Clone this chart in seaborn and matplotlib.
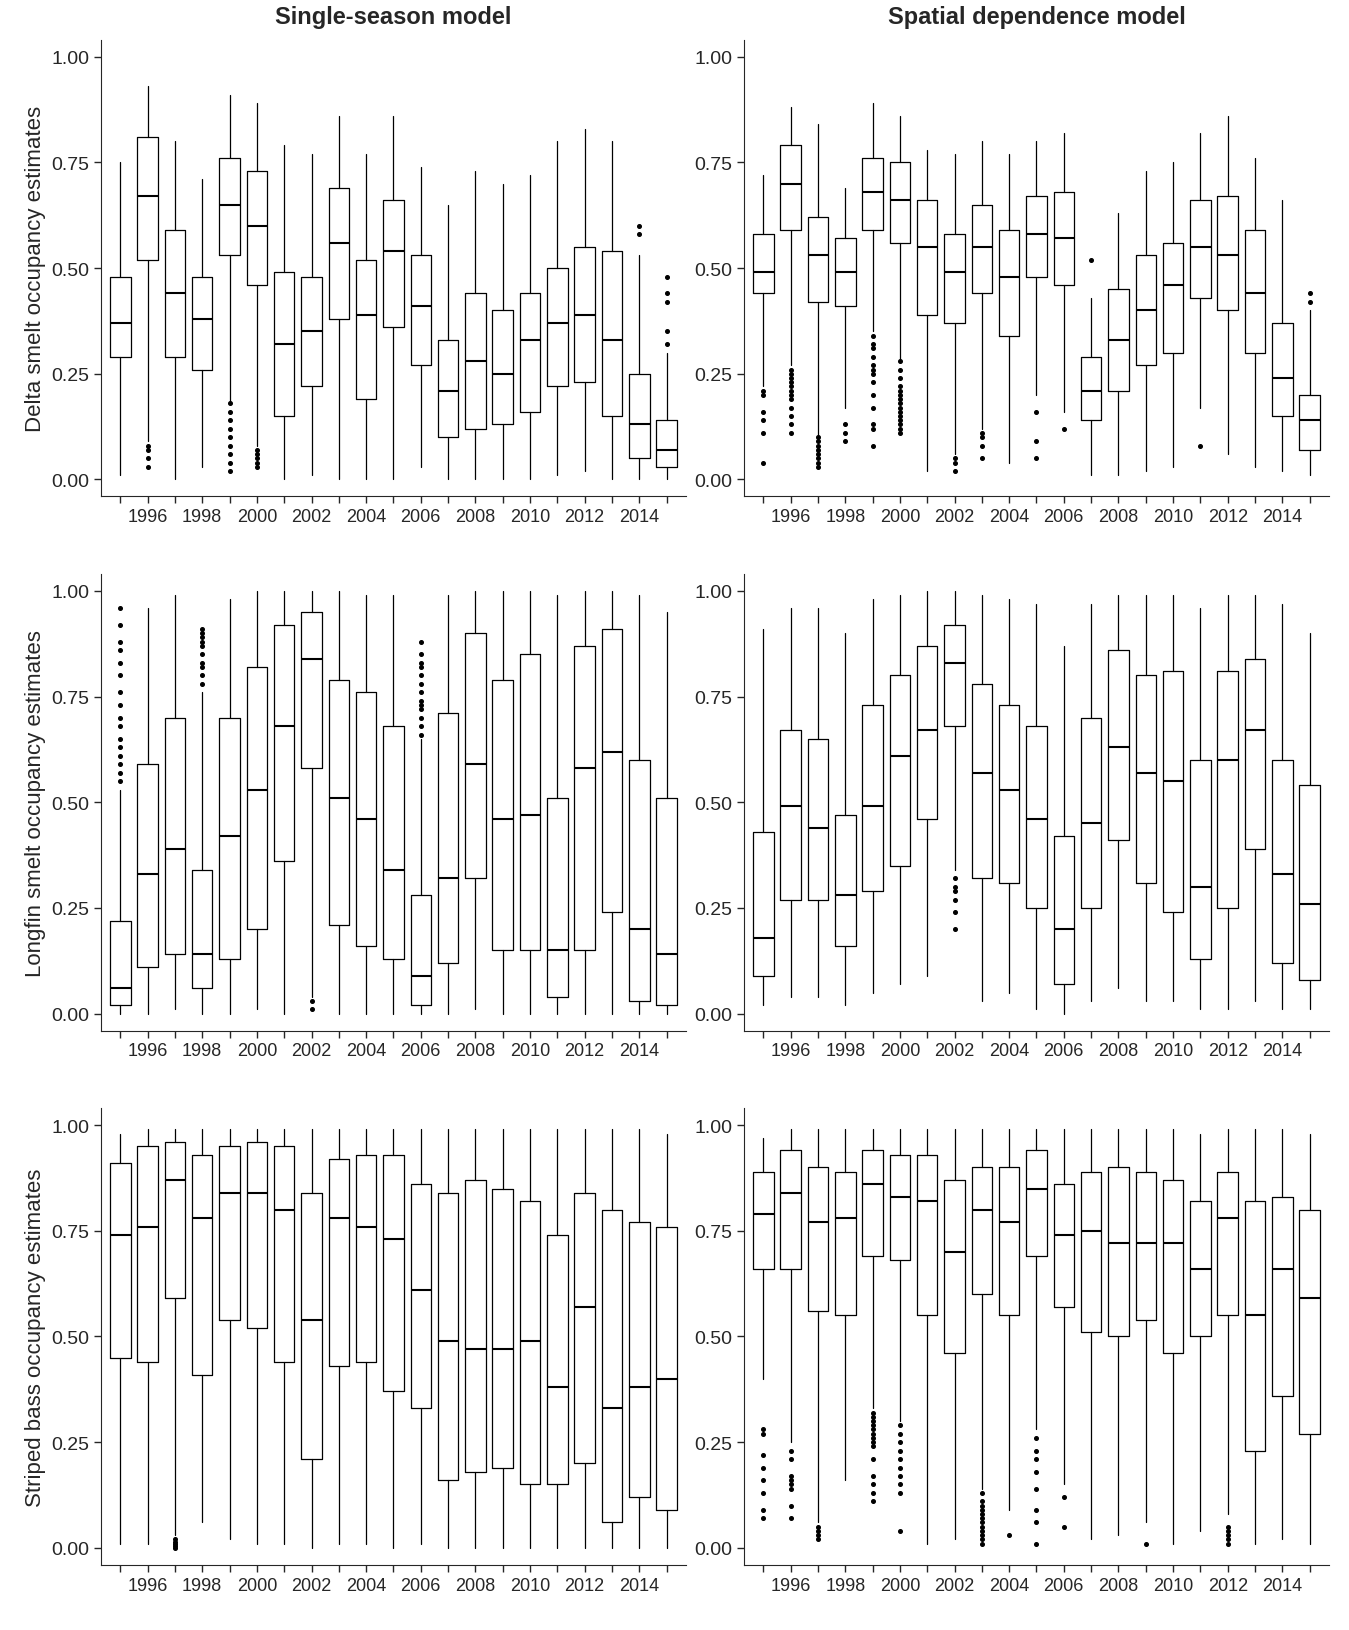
"""Occupancy estimate boxplots: single-season vs spatial dependence model."""

import matplotlib

matplotlib.use("Agg")

import matplotlib.pyplot as plt
import seaborn as sns

years = list(range(1995, 2016))
species = ["Delta smelt", "Longfin smelt", "Striped bass"]
models = ["Single-season model", "Spatial dependence model"]

# Box statistics per year: whisker low, q1, median, q3, whisker high
ds_single_lo = [.01, .09, 0, .03, .18, .08, 0, .01, 0, 0, 0, .03, 0, 0, 0, 0, .01, .02, 0, 0, 0]
ds_single_q1 = [.29, .52, .29, .26, .53, .46, .15, .22, .38, .19, .36, .27, .10, .12, .13, .16, .22, .23, .15, .05, .03]
ds_single_med = [.37, .67, .44, .38, .65, .60, .32, .35, .56, .39, .54, .41, .21, .28, .25, .33, .37, .39, .33, .13, .07]
ds_single_q3 = [.48, .81, .59, .48, .76, .73, .49, .48, .69, .52, .66, .53, .33, .44, .40, .44, .50, .55, .54, .25, .14]
ds_single_hi = [.75, .93, .80, .71, .91, .89, .79, .77, .86, .77, .86, .74, .65, .73, .70, .72, .80, .83, .80, .53, .30]
ds_single_fl = {1996: [.03, .05, .07, .08], 1999: [.02, .04, .06, .08, .10, .12, .14, .16, .18],
                2000: [.03, .04, .05, .06, .07], 2014: [.58, .60], 2015: [.32, .35, .42, .44, .48]}

ds_spatial_lo = [.22, .27, .10, .17, .35, .28, .02, .06, .12, .04, .20, .16, .01, .01, .02, .03, .17, .06, .03, .02, .01]
ds_spatial_q1 = [.44, .59, .42, .41, .59, .56, .39, .37, .44, .34, .48, .46, .14, .21, .27, .30, .43, .40, .30, .15, .07]
ds_spatial_med = [.49, .70, .53, .49, .68, .66, .55, .49, .55, .48, .58, .57, .21, .33, .40, .46, .55, .53, .44, .24, .14]
ds_spatial_q3 = [.58, .79, .62, .57, .76, .75, .66, .58, .65, .59, .67, .68, .29, .45, .53, .56, .66, .67, .59, .37, .20]
ds_spatial_hi = [.72, .88, .84, .69, .89, .86, .78, .77, .80, .77, .80, .82, .43, .63, .73, .75, .82, .86, .76, .66, .40]
ds_spatial_fl = {1995: [.04, .11, .14, .16, .20, .21],
                 1996: [.11, .13, .15, .17, .19, .20, .21, .22, .23, .24, .25, .26],
                 1997: [.03, .04, .05, .06, .07, .08, .09, .10],
                 1998: [.09, .11, .13],
                 1999: [.08, .12, .13, .17, .20, .23, .25, .26, .27, .29, .31, .32, .34],
                 2000: [.11, .12, .13, .14, .15, .16, .17, .18, .19, .20, .21, .22, .24, .26, .28],
                 2002: [.02, .04, .05], 2003: [.05, .08, .10, .11], 2005: [.05, .09, .16],
                 2006: [.12], 2007: [.52], 2011: [.08], 2015: [.42, .44]}

lf_single_lo = [0, 0, .01, 0, 0, .01, 0, .04, 0, 0, 0, 0, 0, .01, 0, 0, 0, 0, 0, 0, 0]
lf_single_q1 = [.02, .11, .14, .06, .13, .20, .36, .58, .21, .16, .13, .02, .12, .32, .15, .15, .04, .15, .24, .03, .02]
lf_single_med = [.06, .33, .39, .14, .42, .53, .68, .84, .51, .46, .34, .09, .32, .59, .46, .47, .15, .58, .62, .20, .14]
lf_single_q3 = [.22, .59, .70, .34, .70, .82, .92, .95, .79, .76, .68, .28, .71, .90, .79, .85, .51, .87, .91, .60, .51]
lf_single_hi = [.53, .96, .99, .76, .98, 1.0, 1.0, 1.0, 1.0, .99, .99, .65, .99, 1.0, 1.0, 1.0, .99, 1.0, 1.0, .99, .95]
lf_single_fl = {1995: [.55, .57, .59, .61, .63, .65, .68, .70, .73, .76, .80, .83, .86, .88, .92, .96],
                1998: [.78, .80, .82, .83, .85, .87, .88, .89, .90, .91],
                2002: [.01, .03],
                2006: [.66, .68, .70, .72, .73, .74, .76, .78, .80, .82, .83, .85, .88]}

lf_spatial_lo = [.02, .04, .04, .02, .05, .07, .09, .34, .03, .05, .01, 0, .03, .06, .03, .03, .01, .01, .03, .01, .01]
lf_spatial_q1 = [.09, .27, .27, .16, .29, .35, .46, .68, .32, .31, .25, .07, .25, .41, .31, .24, .13, .25, .39, .12, .08]
lf_spatial_med = [.18, .49, .44, .28, .49, .61, .67, .83, .57, .53, .46, .20, .45, .63, .57, .55, .30, .60, .67, .33, .26]
lf_spatial_q3 = [.43, .67, .65, .47, .73, .80, .87, .92, .78, .73, .68, .42, .70, .86, .80, .81, .60, .81, .84, .60, .54]
lf_spatial_hi = [.91, .96, .96, .90, .98, .99, 1.0, 1.0, .99, .98, .97, .87, .97, .99, .99, .99, .96, .99, .99, .97, .90]
lf_spatial_fl = {2002: [.20, .24, .27, .29, .30, .32]}

sb_single_lo = [.01, .01, .03, .06, .02, .01, .01, 0, .01, .01, 0, .01, 0, 0, 0, 0, 0, 0, 0, 0, 0]
sb_single_q1 = [.45, .44, .59, .41, .54, .52, .44, .21, .43, .44, .37, .33, .16, .18, .19, .15, .15, .20, .06, .12, .09]
sb_single_med = [.74, .76, .87, .78, .84, .84, .80, .54, .78, .76, .73, .61, .49, .47, .47, .49, .38, .57, .33, .38, .40]
sb_single_q3 = [.91, .95, .96, .93, .95, .96, .95, .84, .92, .93, .93, .86, .84, .87, .85, .82, .74, .84, .80, .77, .76]
sb_single_hi = [.98, .99, .99, .99, .99, .99, .99, .99, .99, .99, .99, .99, .99, .99, .99, .99, .99, .99, .99, .99, .98]
sb_single_fl = {1997: [0, .005, .01, .015, .02]}

sb_spatial_lo = [.40, .25, .06, .16, .33, .30, .01, .02, .14, .09, .28, .15, .02, .03, .06, .01, .04, .08, .01, .02, .01]
sb_spatial_q1 = [.66, .66, .56, .55, .69, .68, .55, .46, .60, .55, .69, .57, .51, .50, .54, .46, .50, .55, .23, .36, .27]
sb_spatial_med = [.79, .84, .77, .78, .86, .83, .82, .70, .80, .77, .85, .74, .75, .72, .72, .72, .66, .78, .55, .66, .59]
sb_spatial_q3 = [.89, .94, .90, .89, .94, .93, .93, .87, .90, .90, .94, .86, .89, .90, .89, .87, .82, .89, .82, .83, .80]
sb_spatial_hi = [.97, .99, .99, .99, .99, .99, .99, .99, .99, .99, .99, .99, .99, .99, .99, .99, .98, .99, .99, .99, .98]
sb_spatial_fl = {1995: [.07, .09, .13, .16, .19, .22, .27, .28],
                 1996: [.07, .10, .14, .15, .16, .17, .21, .23],
                 1997: [.02, .03, .04, .05],
                 1999: [.11, .13, .15, .17, .21, .24, .25, .26, .27, .28, .29, .30, .31, .32],
                 2000: [.04, .13, .15, .17, .19, .21, .23, .25, .27, .29],
                 2003: [.01, .02, .03, .04, .05, .06, .07, .08, .09, .10, .11, .13],
                 2004: [.03], 2005: [.01, .06, .09, .14, .18, .21, .23, .26],
                 2006: [.05, .12], 2009: [.01], 2012: [.01, .02, .03, .04, .05]}

panels = [
    [(ds_single_lo, ds_single_q1, ds_single_med, ds_single_q3, ds_single_hi, ds_single_fl),
     (ds_spatial_lo, ds_spatial_q1, ds_spatial_med, ds_spatial_q3, ds_spatial_hi, ds_spatial_fl)],
    [(lf_single_lo, lf_single_q1, lf_single_med, lf_single_q3, lf_single_hi, lf_single_fl),
     (lf_spatial_lo, lf_spatial_q1, lf_spatial_med, lf_spatial_q3, lf_spatial_hi, lf_spatial_fl)],
    [(sb_single_lo, sb_single_q1, sb_single_med, sb_single_q3, sb_single_hi, sb_single_fl),
     (sb_spatial_lo, sb_spatial_q1, sb_spatial_med, sb_spatial_q3, sb_spatial_hi, sb_spatial_fl)],
]

sns.set_style("ticks")
plt.rcParams["font.family"] = ["Liberation Sans", "DejaVu Sans"]

fig, axes = plt.subplots(3, 2, figsize=(13.49, 16.31), dpi=100)
fig.subplots_adjust(left=0.075, right=0.985, top=0.975, bottom=0.04, wspace=0.10, hspace=0.17)

for r, row in enumerate(panels):
    for c, (lo, q1, med, q3, hi, fl) in enumerate(row):
        ax = axes[r, c]
        stats = [dict(whislo=lo[i], q1=q1[i], med=med[i], q3=q3[i], whishi=hi[i],
                      fliers=fl.get(y, []))
                 for i, y in enumerate(years)]
        ax.bxp(stats, positions=years, widths=0.75, showcaps=False,
               boxprops=dict(color="black", lw=0.9),
               whiskerprops=dict(color="black", lw=0.9),
               medianprops=dict(color="black", lw=1.5),
               flierprops=dict(marker="o", markersize=2.6, markerfacecolor="black",
                               markeredgecolor="black"))
        ax.set_xlim(1994.3, 2015.7)
        ax.set_ylim(-0.04, 1.04)
        ax.set_xticks(years)
        ax.set_xticklabels([str(y) if y % 2 == 0 else "" for y in years], fontsize=13)
        ax.set_yticks([0, 0.25, 0.5, 0.75, 1.0])
        ax.set_yticklabels(["0.00", "0.25", "0.50", "0.75", "1.00"], fontsize=14)
        ax.tick_params(length=5, width=1)
        sns.despine(ax=ax)
        if c == 0:
            ax.set_ylabel(f"{species[r]} occupancy estimates", fontsize=16)
        if r == 0:
            ax.set_title(models[c], fontsize=17, fontweight="bold", pad=12)

fig.savefig("out.png", dpi=100)
